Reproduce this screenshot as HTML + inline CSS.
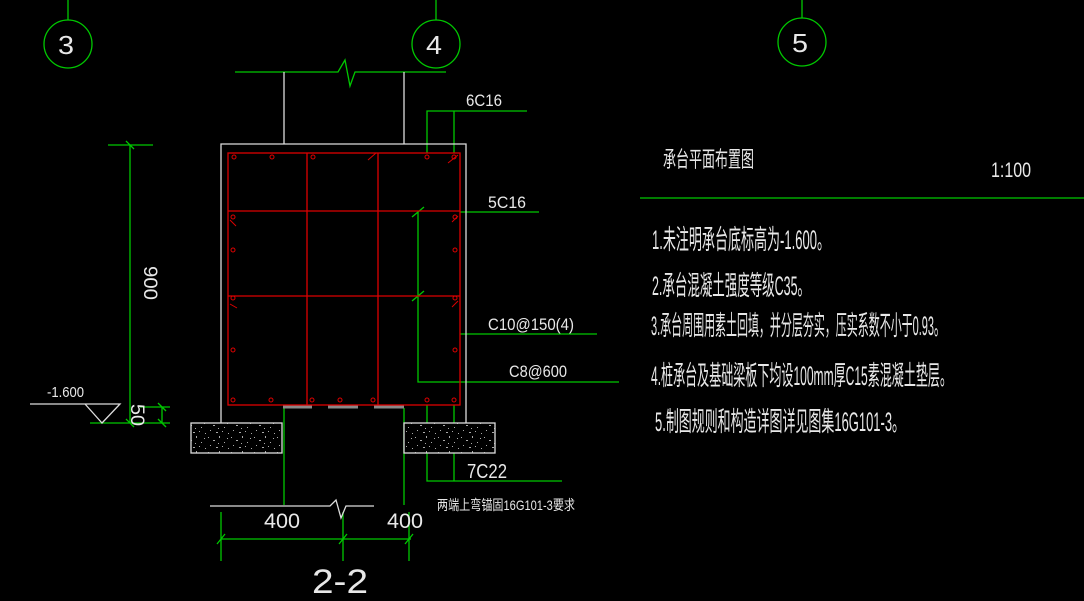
<!DOCTYPE html>
<html><head><meta charset="utf-8"><style>
html,body{margin:0;padding:0;background:#000;width:1084px;height:601px;overflow:hidden}
svg{display:block}
text{font-family:"Liberation Sans","Noto Sans CJK SC",sans-serif;fill:#e8e8e8}
</style></head><body>
<svg width="1084" height="601" viewBox="0 0 1084 601" xmlns="http://www.w3.org/2000/svg">
<defs>
<pattern id="nz" width="23" height="15" patternUnits="userSpaceOnUse">
<rect width="23" height="15" fill="#000"/>
<g fill="#aaa">
<rect x="1" y="2" width="1" height="1"/><rect x="6" y="5" width="2" height="1"/><rect x="12" y="1" width="1" height="2"/>
<rect x="17" y="7" width="1" height="1"/><rect x="3" y="10" width="1" height="1"/><rect x="9" y="12" width="2" height="1"/>
<rect x="15" y="11" width="1" height="1"/><rect x="20" y="3" width="1" height="1"/><rect x="11" y="8" width="1" height="1"/>
<rect x="21" y="13" width="1" height="1"/></g>
</pattern>
</defs>
<g fill="none" stroke="#00c800" stroke-width="1.3">
<line x1="68" y1="0" x2="68" y2="20"/><circle cx="68" cy="44" r="24"/>
<line x1="436" y1="0" x2="436" y2="20"/><circle cx="436" cy="44" r="24"/>
<line x1="802" y1="0" x2="802" y2="18"/><circle cx="802" cy="42" r="24"/>
<polyline points="235,72 338,72 345,60 350,86 355,72 446,72"/>
<polyline points="427,153 427,111 527,111"/><line x1="454" y1="111" x2="454" y2="153"/>
<line x1="460" y1="212" x2="539" y2="212"/>
<line x1="460" y1="334" x2="597" y2="334"/>
<polyline points="418,212 418,382 619,382"/>
<line x1="412" y1="217" x2="424" y2="207"/><line x1="412" y1="301" x2="424" y2="291"/>
<line x1="284" y1="408" x2="284" y2="505"/><line x1="404" y1="408" x2="404" y2="505"/>
<polyline points="427,405 427,481 562,481"/><line x1="454" y1="405" x2="454" y2="481"/>
<line x1="221" y1="539" x2="411" y2="539"/>
<line x1="221" y1="512" x2="221" y2="561"/><line x1="343" y1="512" x2="343" y2="561"/><line x1="409" y1="512" x2="409" y2="561"/>
<line x1="217" y1="544" x2="225" y2="534"/><line x1="339" y1="544" x2="347" y2="534"/><line x1="405" y1="544" x2="413" y2="534"/>
<line x1="108" y1="145" x2="153" y2="145"/><line x1="130" y1="145" x2="130" y2="423"/>
<line x1="90" y1="423" x2="170" y2="423"/><line x1="140" y1="407" x2="170" y2="407"/>
<line x1="162" y1="407" x2="162" y2="423"/>
<line x1="126" y1="141" x2="134" y2="149"/><line x1="158" y1="403" x2="166" y2="411"/><line x1="158" y1="419" x2="166" y2="427"/><line x1="126" y1="419" x2="134" y2="427"/>
<line x1="640" y1="198" x2="1084" y2="198"/>
</g>
<g fill="none" stroke="#ddd" stroke-width="1.3">
<line x1="284" y1="72" x2="284" y2="144"/><line x1="404" y1="72" x2="404" y2="144"/>
<polyline points="221,423 221,144 466,144 466,423"/>
<polyline points="30,404 120,404 102,423 85,404"/>
<polyline points="210,506 330,506 336,500 341,518 346,506 374,506"/>
</g>
<rect x="191" y="423" width="91" height="30" fill="url(#nz)" stroke="#ddd" stroke-width="1.3"/>
<rect x="404" y="423" width="91" height="30" fill="url(#nz)" stroke="#ddd" stroke-width="1.3"/>
<g stroke="#888" stroke-width="3"><line x1="283" y1="407" x2="312" y2="407"/><line x1="328" y1="407" x2="358" y2="407"/><line x1="374" y1="407" x2="404" y2="407"/></g>
<g fill="none" stroke="#d00" stroke-width="1.3">
<rect x="228" y="153" width="232" height="252"/>
<line x1="307" y1="153" x2="307" y2="405"/><line x1="378" y1="153" x2="378" y2="405"/>
<line x1="228" y1="211" x2="460" y2="211"/><line x1="228" y1="296" x2="460" y2="296"/>
<g stroke-width="1">
<circle cx="234" cy="157" r="2"/><circle cx="272" cy="157" r="2"/><circle cx="313" cy="157" r="2"/><circle cx="427" cy="157" r="2"/><circle cx="454" cy="157" r="2"/>
<circle cx="233" cy="250" r="2"/><circle cx="455" cy="250" r="2"/><circle cx="233" cy="350" r="2"/><circle cx="455" cy="350" r="2"/>
<circle cx="233" cy="217" r="2"/><circle cx="455" cy="217" r="2"/><circle cx="233" cy="298" r="2"/><circle cx="455" cy="298" r="2"/>
<circle cx="233" cy="400" r="2"/><circle cx="271" cy="400" r="2"/><circle cx="312" cy="400" r="2"/><circle cx="340" cy="400" r="2"/><circle cx="373" cy="400" r="2"/><circle cx="427" cy="400" r="2"/><circle cx="454" cy="400" r="2"/>
<line x1="368" y1="160" x2="376" y2="153"/><line x1="448" y1="163" x2="458" y2="155"/><line x1="230" y1="220" x2="236" y2="226"/><line x1="452" y1="222" x2="458" y2="216"/><line x1="230" y1="304" x2="237" y2="308"/><line x1="452" y1="307" x2="458" y2="301"/>
</g></g>
<g font-size="26">
<text x="58" y="54" textLength="16" lengthAdjust="spacingAndGlyphs">3</text><text x="426" y="54" textLength="16" lengthAdjust="spacingAndGlyphs">4</text><text x="792" y="52" textLength="16" lengthAdjust="spacingAndGlyphs">5</text>
</g>
<g font-size="17">
<text x="466" y="106" textLength="36" lengthAdjust="spacingAndGlyphs">6C16</text>
<text x="488" y="208" textLength="38" lengthAdjust="spacingAndGlyphs">5C16</text>
<text x="488" y="330" textLength="86" lengthAdjust="spacingAndGlyphs">C10@150(4)</text>
<text x="509" y="377" textLength="58" lengthAdjust="spacingAndGlyphs">C8@600</text>
<text x="467" y="478" font-size="20" textLength="40" lengthAdjust="spacingAndGlyphs">7C22</text>
<text x="264" y="528" font-size="21" textLength="36" lengthAdjust="spacingAndGlyphs">400</text>
<text x="387" y="528" font-size="21" textLength="36" lengthAdjust="spacingAndGlyphs">400</text>
<text x="437" y="510" font-size="14" textLength="138" lengthAdjust="spacingAndGlyphs">两端上弯锚固16G101-3要求</text>
<text x="312" y="593" font-size="34" textLength="56" lengthAdjust="spacingAndGlyphs">2-2</text>
<text x="47" y="397" font-size="15" textLength="37" lengthAdjust="spacingAndGlyphs">-1.600</text>
<text transform="translate(144,266) rotate(90)" font-size="19" textLength="34" lengthAdjust="spacingAndGlyphs">900</text>
<text transform="translate(131,404) rotate(90)" font-size="19" textLength="22" lengthAdjust="spacingAndGlyphs">50</text>
<text x="663" y="167" font-size="22" textLength="91" lengthAdjust="spacingAndGlyphs">承台平面布置图</text>
<text x="991" y="177" font-size="21" textLength="40" lengthAdjust="spacingAndGlyphs">1:100</text>
<text x="652" y="249" font-size="27" textLength="178" lengthAdjust="spacingAndGlyphs">1.未注明承台底标高为-1.600。</text>
<text x="652" y="295" font-size="27" textLength="158" lengthAdjust="spacingAndGlyphs">2.承台混凝土强度等级C35。</text>
<text x="651" y="335" font-size="27" textLength="294" lengthAdjust="spacingAndGlyphs">3.承台周围用素土回填，并分层夯实，压实系数不小于0.93。</text>
<text x="651" y="385" font-size="27" textLength="301" lengthAdjust="spacingAndGlyphs">4.桩承台及基础梁板下均设100mm厚C15素混凝土垫层。</text>
<text x="655" y="431" font-size="27" textLength="250" lengthAdjust="spacingAndGlyphs">5.制图规则和构造详图详见图集16G101-3。</text>
</g>
</svg>
</body></html>
